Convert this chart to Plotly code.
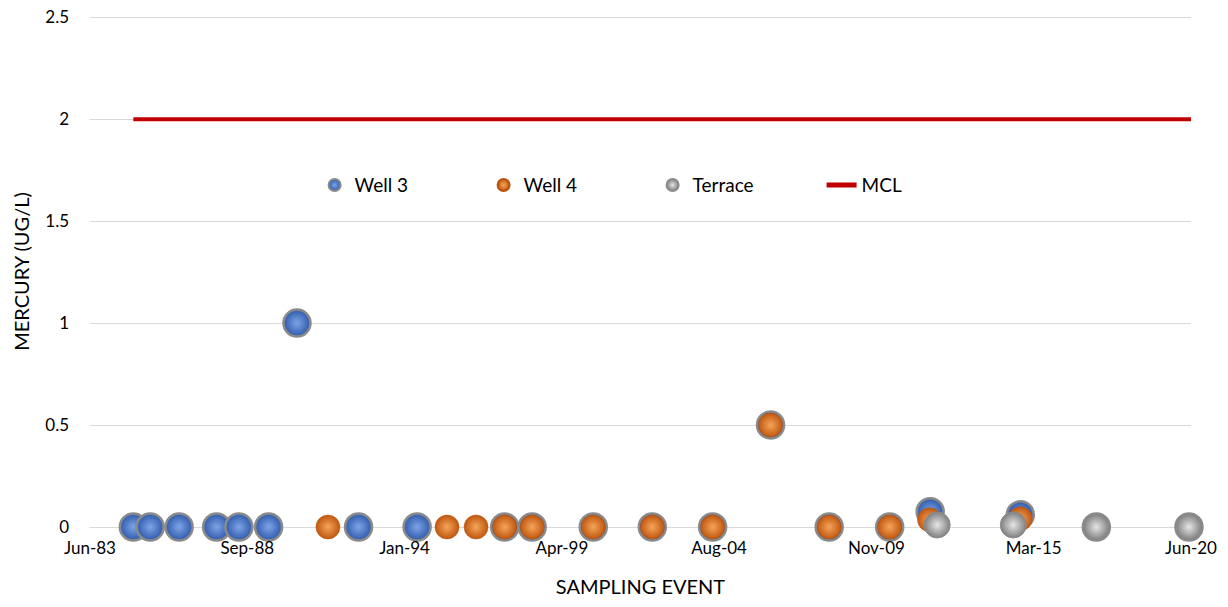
"""Mercury sampling results by well, with MCL reference line."""

import pandas as pd
import plotly.graph_objects as go

# sampling dates and results (ug/L)
well3_dates = [
    "1984-11-15", "1985-06-10", "1986-06-01", "1987-09-05", "1988-06-05",
    "1989-06-05", "1990-05-20", "1992-06-15", "1994-06-05", "1997-05-17",
    "1998-04-20", "2000-05-10", "2002-05-06", "2004-05-17", "2006-04-29",
    "2008-04-19", "2010-05-03", "2011-09-13", "2014-09-25", "2017-04-17",
    "2020-05-30",
]
well3_values = [0, 0, 0, 0, 0, 0, 1.0, 0, 0, 0, 0, 0, 0, 0, 0.5, 0, 0, 0.075, 0.06, 0, 0]

well4_dates = [
    "1991-06-05", "1995-06-08", "1996-05-30", "1997-05-17", "1998-04-20",
    "2000-05-10", "2002-05-06", "2004-05-17", "2006-04-29", "2008-04-19",
    "2010-05-03", "2011-09-05", "2014-09-25",
]
well4_values = [0, 0, 0, 0, 0, 0, 0, 0, 0.5, 0, 0, 0.035, 0.04]

terrace_dates = ["2011-12-08", "2014-07-01", "2017-04-17", "2020-05-30"]
terrace_values = [0.01, 0.01, 0, 0]

mcl_dates = ["1984-11-15", "2020-06-24"]
mcl_values = [2, 2]

# Excel-style date axis: fixed major unit in days
axis_start = pd.Timestamp("1983-06-01")
major_unit_days = 1934
tick_dates = [axis_start + pd.Timedelta(days=major_unit_days * k) for k in range(8)]
tick_text = [d.strftime("%b-%y") for d in tick_dates]

FONT = "Lato"

fig = go.Figure()
fig.add_trace(go.Scatter(
    x=well3_dates, y=well3_values, mode="markers", name="Well 3", cliponaxis=False,
    marker=dict(size=27, color="#2E5AAC",
                gradient=dict(type="radial", color="#7EA4E6"),
                line=dict(color="#8A8A8A", width=2.5)),
))
fig.add_trace(go.Scatter(
    x=well4_dates, y=well4_values, mode="markers", name="Well 4", cliponaxis=False,
    marker=dict(size=24, color="#C0570F",
                gradient=dict(type="radial", color="#F5A55A"),
                line=dict(color="#B85410", width=0.5)),
))
fig.add_trace(go.Scatter(
    x=terrace_dates, y=terrace_values, mode="markers", name="Terrace", cliponaxis=False,
    marker=dict(size=26, color="#7F7F7F",
                gradient=dict(type="radial", color="#E6E6E6"),
                line=dict(color="#8C8C8C", width=1)),
))
fig.add_trace(go.Scatter(
    x=mcl_dates, y=mcl_values, mode="lines", name="MCL",
    line=dict(color="#C00000", width=4),
))

fig.update_layout(
    width=1228,
    height=607,
    margin=dict(l=90, r=37, t=16, b=80),
    plot_bgcolor="white",
    paper_bgcolor="white",
    font=dict(family=FONT, size=17, color="#000000"),
    legend=dict(
        orientation="h", x=0.204, y=0.669, xanchor="left", yanchor="middle",
        entrywidth=124, entrywidthmode="pixels", itemsizing="constant",
        bgcolor="rgba(0,0,0,0)", font=dict(size=19),
    ),
    xaxis=dict(
        type="date",
        range=[tick_dates[0], tick_dates[-1]],
        tickvals=tick_dates,
        ticktext=tick_text,
        showgrid=False,
        showline=False,
        zeroline=False,
        ticks="",
        automargin=False,
        ticklabelstandoff=9,
        tickfont=dict(size=17),
        title=dict(text="SAMPLING EVENT", standoff=22, font=dict(size=20)),
    ),
    yaxis=dict(
        range=[0, 2.506],
        tickvals=[0, 0.5, 1, 1.5, 2, 2.5],
        ticktext=["0", "0.5", "1", "1.5", "2", "2.5"],
        showgrid=True,
        gridcolor="#D9D9D9",
        gridwidth=1,
        zeroline=True,
        zerolinecolor="#D9D9D9",
        zerolinewidth=1,
        ticks="",
        automargin=False,
        ticklabelstandoff=20,
        tickfont=dict(size=17),
        title=dict(text="MERCURY (UG/L)", standoff=10, font=dict(size=20)),
    ),
)

# drop the default page margin so the figure sits at the window's corner
fig.write_html(
    "out.html",
    config={"displayModeBar": False},
    post_script="document.body.style.margin = '0';",
)
